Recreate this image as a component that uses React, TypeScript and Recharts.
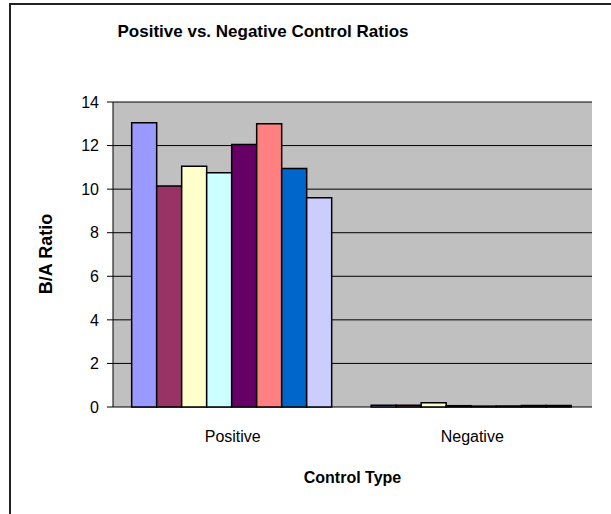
import React from "react"
import {
  BarChart,
  Bar,
  XAxis,
  YAxis,
  CartesianGrid,
  ReferenceArea,
  Label,
} from "recharts"

const categories = ["Positive", "Negative"]
const seriesNames = ["S1", "S2", "S3", "S4", "S5", "S6", "S7", "S8"]
const seriesColors = ["#9999FF", "#993366", "#FFFFCC", "#CCFFFF", "#660066", "#FF8080", "#0066CC", "#CCCCFF"]
const positiveValues = [13.05, 10.15, 11.05, 10.75, 12.05, 13.0, 10.95, 9.6]
const negativeValues = [0.08, 0.08, 0.2, 0.06, 0.04, 0.05, 0.07, 0.07]
const yTicks = [0, 2, 4, 6, 8, 10, 12, 14]

const groups = [positiveValues, negativeValues]
const data = categories.map((category, i) => {
  const row: Record<string, string | number> = { category }
  seriesNames.forEach((name, j) => {
    row[name] = groups[i][j]
  })
  return row
})

const font = "'Liberation Sans', Arial, sans-serif"

export default function App() {
  return (
    <div style={{ position: "absolute", left: 0, top: 0, width: 611, height: 514, background: "#fff", overflow: "hidden", fontFamily: font }}>
      <div style={{ position: "absolute", left: 9, top: 3, width: 640, height: 560, borderLeft: "2px solid #222", borderTop: "2px solid #222" }} />
      <div style={{ position: "absolute", left: 0, top: 22, width: 526, textAlign: "center", fontWeight: "bold", fontSize: 17, color: "#000" }}>
        Positive vs. Negative Control Ratios
      </div>
      <div style={{ position: "absolute", left: 0, top: 0 }}>
        <BarChart
          width={611}
          height={514}
          data={data}
          margin={{ top: 102, right: 19, bottom: 27, left: 20 }}
          barGap={0}
          barCategoryGap="7.8%"
        >
          <CartesianGrid xAxisId="cat" vertical={false} fill="#C0C0C0" fillOpacity={1} stroke="#000" />
          <XAxis
            xAxisId="tk"
            type="number"
            domain={[0, 2]}
            ticks={[0, 1, 2]}
            tick={false}
            tickSize={5}
            height={0}
            axisLine={{ stroke: "#000" }}
            tickLine={{ stroke: "#000" }}
          />
          <XAxis
            xAxisId="cat"
            dataKey="category"
            height={80}
            axisLine={false}
            tickLine={false}
            tickSize={0}
            tickMargin={24}
            tick={{ fill: "#000", fontSize: 16, fontFamily: font }}
          >
            <Label value="Control Type" position="insideBottom" offset={4} style={{ fill: "#000", fontSize: 16, fontWeight: "bold", fontFamily: font }} />
          </XAxis>
          <YAxis
            width={93}
            domain={[0, 14]}
            ticks={yTicks}
            interval={0}
            tickSize={6}
            tickMargin={8}
            axisLine={{ stroke: "#000" }}
            tickLine={{ stroke: "#000" }}
            tick={{ fill: "#000", fontSize: 16, fontFamily: font }}
          >
            <Label
              content={() => (
                <text x={46} y={254} transform="rotate(-90 46 254)" textAnchor="middle" dominantBaseline="central" fontSize={18} fontWeight="bold" fontFamily={font} fill="#000">
                  B/A Ratio
                </text>
              )}
            />
          </YAxis>
          <ReferenceArea xAxisId="tk" x1={0} x2={2} y1={0} y2={14} fill="none" stroke="#808080" strokeWidth={2} />
          {seriesNames.map((name, i) => (
            <Bar
              key={name}
              xAxisId="cat"
              dataKey={name}
              fill={seriesColors[i]}
              stroke="#000"
              strokeWidth={1.5}
              isAnimationActive={false}
            />
          ))}
        </BarChart>
      </div>
    </div>
  )
}
